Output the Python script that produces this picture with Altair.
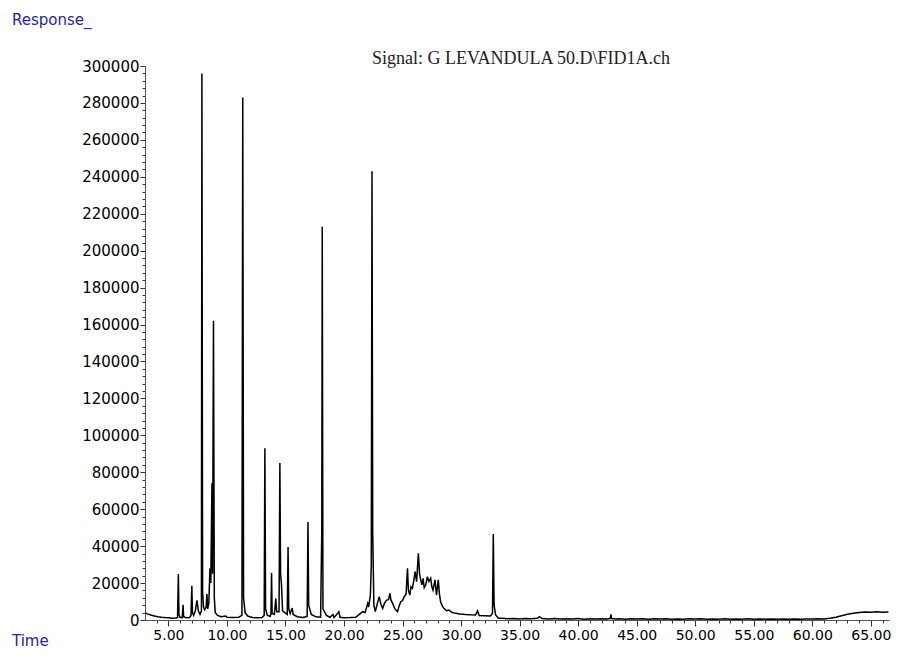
import altair as alt
import pandas as pd

# ---- chromatogram trace: (time in min, response) ----
early_trace = [
    (3.0, 3800), (3.2, 3300), (3.5, 2700), (3.8, 2200), (4.1, 1800), (4.4, 1500),
    (4.7, 1300), (5.0, 1200), (5.3, 1000), (5.6, 1100), (5.78, 1300), (5.85, 24900),
    (5.9, 3000), (5.98, 1500), (6.18, 1300), (6.25, 8200), (6.3, 1800), (6.5, 1200),
    (6.8, 1300), (6.93, 2500), (7.0, 18500), (7.05, 4000), (7.15, 2500), (7.3, 5000),
    (7.44, 10700), (7.55, 5000), (7.7, 3000), (7.82, 5000), (7.86, 296000), (7.92, 15000),
    (8.0, 7000), (8.1, 5500), (8.22, 7000), (8.29, 14000), (8.35, 6000), (8.45, 9000),
    (8.55, 28000), (8.62, 20000), (8.72, 74000), (8.77, 25000), (8.85, 162000), (8.92, 12000),
    (9.0, 4000), (9.2, 2500), (9.5, 1800), (9.9, 2200), (10.0, 1500), (10.5, 1400),
    (11.0, 1500), (11.28, 2500), (11.35, 283000), (11.42, 12000), (11.55, 4000), (11.8, 2000),
    (12.2, 1400), (12.6, 1200), (13.0, 1300), (13.18, 2500), (13.24, 93000), (13.3, 6000),
    (13.45, 2500), (13.7, 2000), (13.76, 3500), (13.81, 25500), (13.86, 3500), (14.05, 3000),
    (14.17, 11600), (14.25, 4500), (14.45, 4500), (14.52, 85000), (14.58, 25000), (14.66, 19000),
    (14.75, 5000), (15.15, 3000), (15.22, 39500), (15.28, 6000), (15.4, 3500), (15.57, 6500),
    (15.65, 3000), (16.0, 1800), (16.5, 1400), (16.85, 2000), (16.92, 53000), (16.98, 8000),
    (17.2, 3000), (17.6, 1700), (18.0, 1500), (18.1, 48000), (18.14, 213000), (18.2, 6000),
    (18.5, 2500), (18.8, 1500), (19.05, 3000), (19.15, 1300), (19.56, 4500), (19.65, 1500),
    (20.0, 1200), (20.5, 1300), (21.0, 1500), (21.3, 3000), (21.6, 4500), (21.8, 4000),
    (22.02, 9000), (22.1, 7000), (22.25, 13500), (22.33, 30000), (22.39, 243000), (22.45, 47800),
    (22.55, 8000), (22.67, 4500),
]

hump_trace = [
    (22.85, 9000), (23.01, 12600), (23.15, 8500), (23.3, 6300), (23.45, 9000), (23.64, 10800),
    (23.8, 11000), (23.92, 14400), (24.0, 11000), (24.15, 9000), (24.35, 6000), (24.57, 4500),
    (24.7, 7500), (24.85, 9900), (25.0, 10500), (25.14, 12600), (25.3, 14000), (25.42, 28000),
    (25.5, 16000), (25.62, 13500), (25.72, 18000), (25.84, 17100), (25.95, 21000), (26.07, 26200),
    (26.2, 20800), (26.35, 36100), (26.45, 25000), (26.55, 21700), (26.65, 19000), (26.75, 22600),
    (26.85, 17500), (26.98, 19000), (27.12, 23500), (27.25, 20800), (27.4, 22600), (27.5, 18000),
    (27.6, 16200), (27.77, 21700), (27.9, 13500), (28.05, 21700), (28.15, 14000), (28.25, 9900),
    (28.4, 7500), (28.53, 6300), (28.75, 5000), (28.96, 5400), (29.2, 4200), (29.53, 3600),
    (29.9, 3300), (30.38, 3000), (30.8, 2800), (31.23, 2700), (31.4, 4900), (31.55, 2400),
    (32.0, 2300), (32.5, 2200), (32.68, 3500), (32.75, 46500), (32.82, 8000), (32.95, 2700),
    (33.2, 1000),
]

late_trace = [
    (33.5, 900), (34.0, 700), (34.5, 850), (35.0, 600), (35.5, 800), (36.0, 650), (36.5, 900),
    (36.7, 1800), (36.9, 750), (37.5, 600), (38.0, 800), (38.5, 500), (39.0, 700), (39.5, 550),
    (40.0, 750), (40.5, 450), (41.0, 650), (41.5, 500), (42.0, 700), (42.5, 550), (42.75, 900),
    (42.8, 3000), (42.85, 800), (43.2, 500), (43.5, 700), (44.0, 450), (44.5, 650), (45.0, 500),
    (45.5, 700), (46.0, 400), (46.5, 650), (47.0, 500), (47.5, 700), (48.0, 450), (48.5, 600),
    (49.0, 400), (49.5, 650), (50.0, 500), (50.5, 700), (51.0, 400), (51.5, 600), (52.0, 450),
    (52.5, 650), (53.0, 400), (53.5, 550), (54.0, 400), (54.5, 650), (55.0, 350), (55.5, 600),
    (56.0, 400), (56.5, 550), (57.0, 350), (57.5, 600), (58.0, 400), (58.5, 550), (59.0, 450),
    (59.5, 600), (60.0, 500), (60.5, 700), (61.0, 600), (61.5, 900), (62.0, 1500), (62.5, 2300),
    (63.0, 3100), (63.5, 3700), (64.0, 4100), (64.5, 4300), (65.0, 4200), (65.5, 4400),
    (66.0, 4200), (66.5, 4300),
]

x_tick_values = list(range(4, 67))          # minor every 1 min, labelled every 5
y_tick_values = list(range(0, 300001, 4000))  # minor every 4000, labelled every 20000

signal_text = ["Signal: G LEVANDULA 50.D\\FID1A.ch"]
response_label = ["Response_"]
time_label = ["Time"]

df = pd.DataFrame(early_trace + hump_trace + late_trace, columns=["time", "response"])

line = alt.Chart(df).mark_line(color="black", strokeWidth=1.5, clip=True).encode(
    x=alt.X(
        "time:Q",
        scale=alt.Scale(domain=[3, 66.55], nice=False, zero=False),
        axis=alt.Axis(
            values=x_tick_values,
            labelExpr="datum.value % 5 === 0 ? format(datum.value, '.2f') : ''",
            tickSize={"condition": {"test": "datum.value % 5 === 0", "value": 6}, "value": 3},
            title=None, grid=False, labelFont="DejaVu Sans", labelFontSize=14,
            labelColor="black", domainColor="#555555", tickColor="#333333",
            labelOverlap=False, labelFlush=False, labelPadding=2,
        ),
    ),
    y=alt.Y(
        "response:Q",
        scale=alt.Scale(domain=[0, 300000], nice=False),
        axis=alt.Axis(
            values=y_tick_values,
            labelExpr="datum.value % 20000 === 0 ? format(datum.value, 'd') : ''",
            tickSize={"condition": {"test": "datum.value % 20000 === 0", "value": 5}, "value": 3},
            title=None, grid=False, labelFont="DejaVu Sans", labelFontSize=15,
            labelColor="black", domainColor="#555555", tickColor="#333333",
            labelOverlap=False, labelFlush=False, labelPadding=1,
        ),
    ),
)

resp_txt = alt.Chart(pd.DataFrame({"t": response_label})).mark_text(
    align="left", baseline="middle", font="DejaVu Sans", fontSize=15, color="#2424a8"
).encode(text="t:N", x=alt.value(-133), y=alt.value(-46))

time_txt = alt.Chart(pd.DataFrame({"t": time_label})).mark_text(
    align="left", baseline="middle", font="DejaVu Sans", fontSize=15, color="#2424a8"
).encode(text="t:N", x=alt.value(-133), y=alt.value(575))

sig_txt = alt.Chart(pd.DataFrame({"t": signal_text})).mark_text(
    align="center", baseline="middle", font="Liberation Serif", fontSize=18, color="#222222"
).encode(text="t:N", x=alt.value(376), y=alt.value(-7))

chart = alt.layer(line, resp_txt, time_txt, sig_txt).properties(
    width=744, height=554,
    background="white",
    padding={"left": 137, "top": 58, "right": 3, "bottom": 32},
    autosize=alt.AutoSizeParams(type="none"),
).configure_view(strokeWidth=0, stroke="transparent")

chart.save("out.html", embed_options={"renderer": "svg", "actions": False})
